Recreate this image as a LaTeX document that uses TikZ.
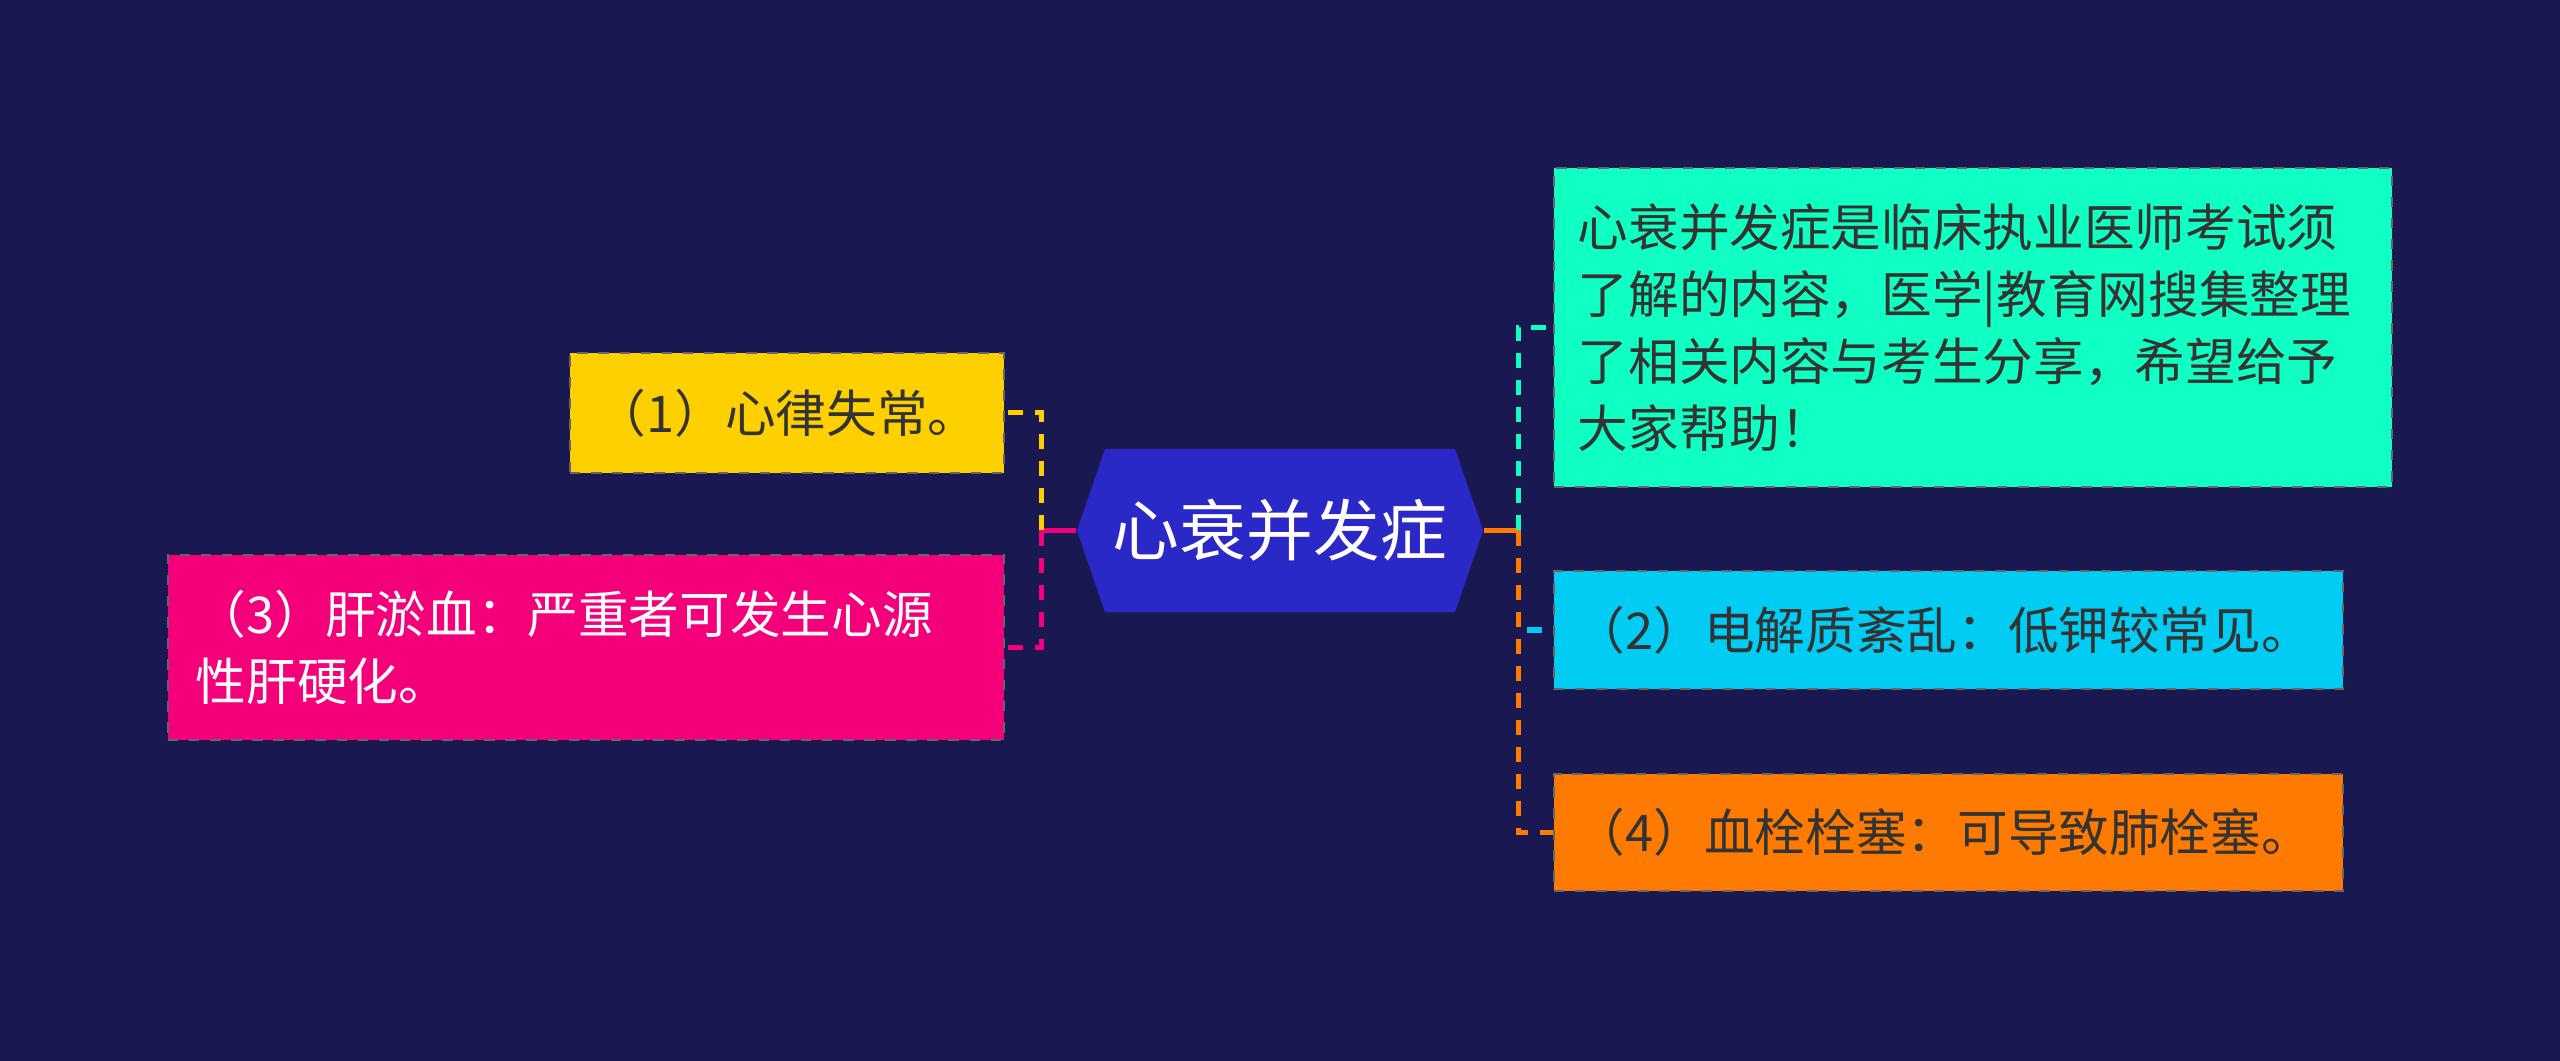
\documentclass[tikz,border=0pt]{standalone}
\usepackage{fontspec}
\setmainfont{Noto Sans CJK SC}
\usetikzlibrary{shapes.symbols}

\definecolor{bgnavy}{HTML}{1A1850}
\definecolor{rootblue}{HTML}{2A28C6}
\definecolor{leafyellow}{HTML}{FFD000}
\definecolor{leafpink}{HTML}{F4007A}
\definecolor{leafteal}{HTML}{10FFC2}
\definecolor{leafcyan}{HTML}{00CCF4}
\definecolor{leaforange}{HTML}{FF7A00}
\definecolor{leaftext}{HTML}{333333}

\tikzset{
    leaf/.style={rectangle, draw=black!60, dashed, line width=0.02cm, inner ysep=0pt,
        text=leaftext, font=\fontsize{14.4}{19}\selectfont},
    link/.style={line width=0.05cm, dash pattern=on 0.15cm off 0.12cm},
}

\begin{document}
\begin{tikzpicture}[x=0.01cm, y=-0.01cm]
    % background
    \fill [bgnavy] (0,0) rectangle (2560,1061);
    % Place nodes
    \node [signal, signal to=east and west, signal pointer angle=142, fill=rootblue,
        minimum width=4.06cm, minimum height=1.63cm, inner sep=0pt, text=white,
        font=\fontsize{19}{22}\selectfont] (root) at (1280,530.5) {心衰并发症};
    \node [leaf, fill=leafyellow, minimum width=4.34cm, minimum height=1.2cm] (sym1) at (787,413) {（1）心律失常。};
    \node [leaf, fill=leafpink, text=white, text width=7.8cm, inner xsep=0.28cm, align=left,
        minimum height=1.85cm] (sym3) at (586,647.5) {（3）肝淤血：严重者可发生心源\\性肝硬化。};
    \node [leaf, fill=leafteal, text width=7.9cm, inner xsep=0.24cm, align=left,
        minimum height=3.19cm] (intro) at (1973,327.5) {心衰并发症是临床执业医师考试须\\了解的内容，医学|教育网搜集整理\\了相关内容与考生分享，希望给予\\大家帮助！};
    \node [leaf, fill=leafcyan, text width=7.47cm, inner xsep=0.21cm, align=left,
        minimum height=1.18cm] (sym2) at (1948.5,630) {（2）电解质紊乱：低钾较常见。};
    \node [leaf, fill=leaforange, text width=7.47cm, inner xsep=0.21cm, align=left,
        minimum height=1.17cm] (sym4) at (1948.5,832.5) {（4）血栓栓塞：可导致肺栓塞。};
    \coordinate (ljoin) at (1041,530.5);
    \coordinate (rjoin) at (1518,530.5);
    % left links
    \draw [line width=0.05cm, leafpink] (root.west) -- (ljoin);
    \draw [link, leafyellow] (ljoin) |- (sym1.east);
    \draw [link, leafpink] (ljoin) |- (sym3.east);
    % right links
    \draw [line width=0.05cm, leaforange] (root.east) -- (rjoin);
    \draw [link, leafteal] (rjoin) |- (intro.west);
    \draw [link, leafcyan] (rjoin) |- (sym2.west);
    \draw [link, leaforange] (rjoin) |- (sym4.west);
\end{tikzpicture}
\end{document}
